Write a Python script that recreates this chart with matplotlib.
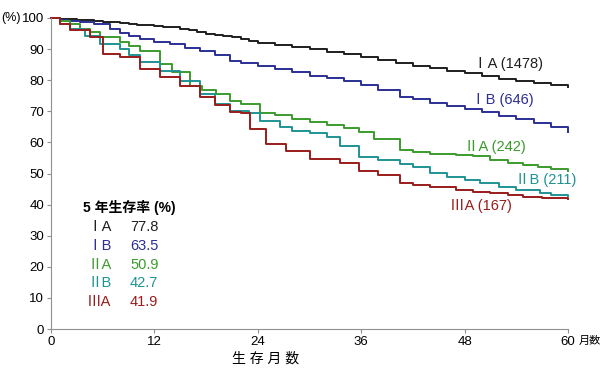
import numpy as np
import matplotlib.pyplot as plt

plt.rcParams['font.family'] = ['Liberation Sans', 'Noto Sans CJK JP', 'DejaVu Sans']

# survival curves (months, %)
t_1a = [0, 1, 2, 3, 4, 5, 6, 7, 8, 9, 10, 11, 12, 13, 14, 15, 16, 17, 18, 19, 20, 21, 22, 23, 24,
        26, 28, 30, 32, 34, 36, 38, 40, 42, 44, 46, 48, 50, 52, 54, 56, 58, 60]
s_1a = [100, 99.8, 99.6, 99.4, 99.2, 99.0, 98.8, 98.6, 98.4, 98.1, 97.8, 97.6, 97.4, 97.2, 97.0,
        96.6, 96.0, 95.5, 95.0, 94.5, 94.1, 93.8, 93.2, 92.6, 92.0, 91.4, 90.8, 90.0, 89.2, 88.4,
        87.6, 86.6, 85.4, 84.6, 83.8, 83.0, 82.4, 81.3, 80.5, 79.8, 79.0, 78.3, 77.8]

t_1b = [0, 1, 2, 3.4, 5, 5.7, 6.8, 8, 9, 10.3, 12, 13.8, 15.5, 17.3, 19, 20.8, 22, 24, 26, 28, 30,
        32, 34, 36, 38, 40.5, 42, 44, 46, 48, 50, 52, 54, 56, 58, 60]
s_1b = [100, 99.5, 99.0, 98.6, 98.2, 98.0, 96.5, 95.2, 94.2, 93.2, 92.4, 91.6, 90.5, 89.5, 88.0,
        86.2, 85.6, 84.6, 83.6, 82.6, 81.5, 80.6, 79.6, 78.4, 77.0, 74.7, 74.0, 72.8, 71.6, 70.6,
        69.9, 68.6, 67.4, 66.2, 64.8, 63.5]

t_2a = [0, 1, 2.2, 3.4, 4.5, 5.7, 8, 9, 10.3, 12.6, 14, 16.1, 17.5, 19.2, 20.8, 22, 24.2, 26, 28,
        30, 32, 34, 35.8, 37.5, 40.5, 42, 44, 47, 49, 51, 53, 54.8, 56.5, 58, 60]
s_2a = [100, 98.9, 98.0, 96.5, 95.5, 93.8, 92.2, 91.0, 89.5, 85.2, 82.5, 78.2, 77.0, 75.6, 73.4,
        72.5, 69.6, 68.8, 67.6, 66.4, 65.6, 64.6, 63.2, 61.0, 57.6, 57.0, 56.4, 55.9, 55.5, 54.4,
        53.4, 52.7, 52.0, 51.4, 50.9]

t_2b = [0, 1, 2.2, 3.9, 5.7, 8, 9, 10.3, 12.6, 15, 17.3, 19, 20.8, 23, 24.2, 26.6, 28, 30, 32, 33.5,
        35.8, 38, 40.5, 42, 44, 46, 48, 49.8, 52, 54, 56.7, 58, 60]
s_2b = [100, 98.0, 96.5, 94.3, 91.6, 90.0, 88.0, 85.7, 83.0, 79.8, 75.6, 72.5, 70.0, 69.3, 66.9,
        64.8, 63.6, 62.9, 61.6, 58.9, 55.2, 54.2, 53.1, 52.0, 50.1, 49.0, 48.0, 46.9, 45.6, 44.6,
        43.6, 43.2, 42.7]

t_3a = [0, 1, 2.2, 4.5, 6, 8, 10.3, 12.6, 15, 17.3, 19, 20.8, 22, 23.1, 25, 27.3, 30, 33.5, 35.8,
        38, 40.5, 42, 44, 47, 49, 51, 53, 54.8, 57, 60]
s_3a = [100, 98.0, 96.0, 93.8, 88.4, 87.3, 83.6, 80.9, 78.2, 74.5, 72.0, 69.9, 69.6, 64.3, 59.5,
        57.3, 54.7, 53.5, 50.9, 49.4, 47.1, 46.4, 45.6, 44.7, 44.0, 43.6, 43.0, 42.6, 42.2, 41.9]

stages = ['ⅠA', 'ⅠB', 'ⅡA', 'ⅡB', 'ⅢA']
counts = [1478, 646, 242, 211, 167]
rates = ['77.8', '63.5', '50.9', '42.7', '41.9']
colors = ['#1e1e1e', '#2b2f95', '#3a9b2c', '#1f9393', '#9a1c1c']
curves = [(t_1a, s_1a), (t_1b, s_1b), (t_2a, s_2a), (t_2b, s_2b), (t_3a, s_3a)]

W, H = 610, 377
fig = plt.figure(figsize=(W / 100, H / 100), dpi=100)
ax = fig.add_axes([51 / W, 1 - 329 / H, (568 - 51) / W, (329 - 18) / H])

for (t, s), c in zip(curves, colors):
    ax.plot(t, s, drawstyle='steps-post', color=c, lw=1.4, clip_on=False)

ax.set_xlim(0, 60)
ax.set_ylim(0, 100)
ax.set_xticks([0, 12, 24, 36, 48, 60])
ax.set_yticks(np.arange(0, 101, 10))
for sp in ['top', 'right']:
    ax.spines[sp].set_visible(False)
for sp in ['left', 'bottom']:
    ax.spines[sp].set_color('#909090')
ax.tick_params(length=3, width=0.8, color='#909090', labelsize=9.5, pad=2)

def px(x, y):
    return x / W, 1 - y / H

fig.text(*px(1, 18), '(%)', fontsize=9, va='center', ha='left')
fig.text(*px(579, 341), '月数', fontsize=8, va='center', ha='left')
fig.text(*px(266, 359), '生 存 月 数', fontsize=10, va='center', ha='center')

# curve labels
label_pos = [(473, 64), (471, 100), (464, 147), (515, 180), (450, 206)]
for (x, y), st, n, c in zip(label_pos, stages, counts, colors):
    fig.text(*px(x, y), f'{st} ({n})', fontsize=10.5, color=c, va='center', ha='left')

# 5-year survival table
fig.text(*px(83, 207), '5 年生存率 (%)', fontsize=10, fontweight='bold', va='center', ha='left')
for i, (st, r, c) in enumerate(zip(stages, rates, colors)):
    y = 227 + i * 18.8
    fig.text(*px(87, y), st, fontsize=10.5, color=c, va='center', ha='left')
    fig.text(*px(130, y), r, fontsize=10.5, color=c, va='center', ha='left')

fig.savefig('out.png', dpi=100)
